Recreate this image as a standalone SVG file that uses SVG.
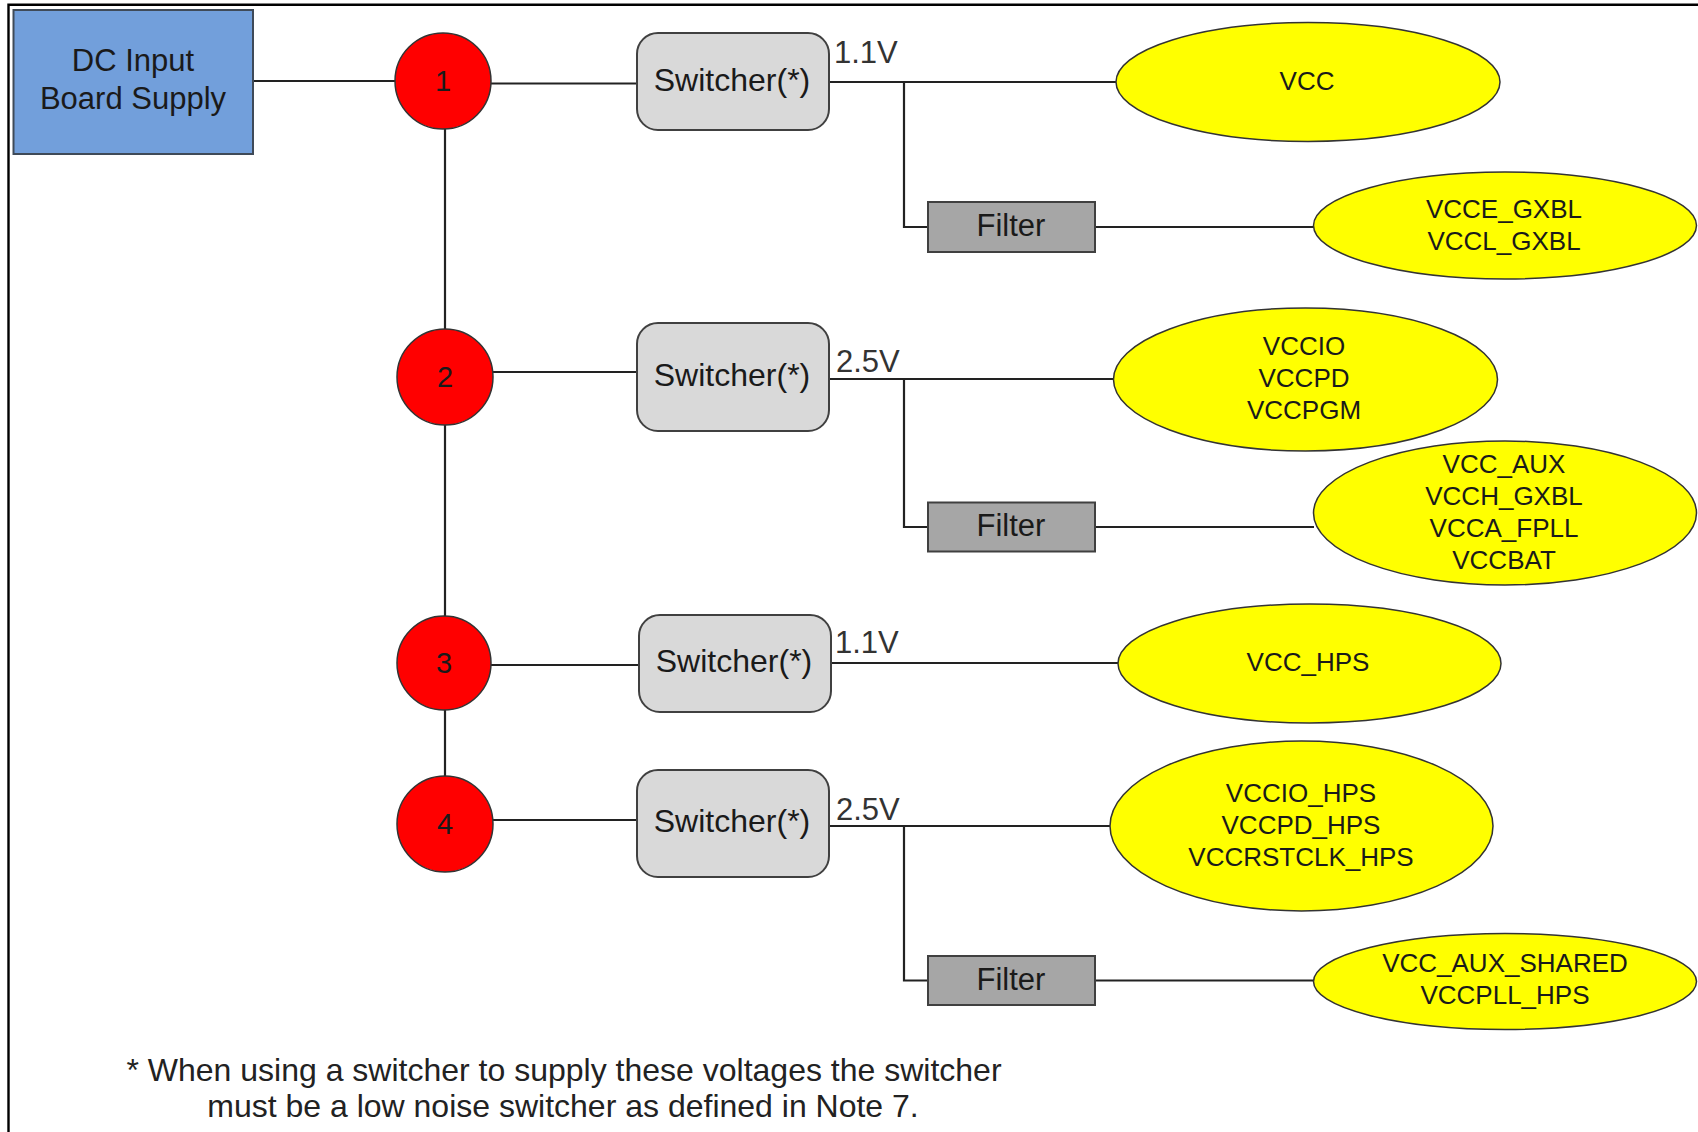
<svg xmlns="http://www.w3.org/2000/svg" width="1698" height="1132" viewBox="0 0 1698 1132">
<style>
  text { font-family: "Liberation Sans", Arial, sans-serif; fill: #1a1a1a; }
  .lbl { font-size: 31px; text-anchor: middle; }
  .swl { font-size: 32px; text-anchor: middle; }
  .num { font-size: 29px; text-anchor: middle; }
  .rail { font-size: 26px; text-anchor: middle; }
  .volt { font-size: 31px; fill: #333333; }
  .note { font-size: 32px; text-anchor: middle; fill: #222222; }
  .box { fill: #729fdb; stroke: #3f4a58; stroke-width: 2; }
  .node { fill: #ff0000; stroke: #333333; stroke-width: 1.5; }
  .sw { fill: #d9d9d9; stroke: #404040; stroke-width: 2; }
  .flt { fill: #a6a6a6; stroke: #404040; stroke-width: 2; }
  .rl { fill: #ffff00; stroke: #333333; stroke-width: 1.5; }
  .wire { fill: none; stroke: #222222; stroke-width: 2.2; }
</style>
<rect x="0" y="0" width="1698" height="1132" fill="#ffffff"/>
<path d="M8.5 1140 V4.8 H1710" fill="none" stroke="#000000" stroke-width="2.4"/>

<g id="connectors">
  <path class="wire" d="M253 81 H395"/>
  <path class="wire" d="M445 129 V329"/>
  <path class="wire" d="M445 425 V616"/>
  <path class="wire" d="M445 710 V776"/>
  <path class="wire" d="M491 83.5 H637"/>
  <path class="wire" d="M493 372 H637"/>
  <path class="wire" d="M491 665 H639"/>
  <path class="wire" d="M493 820 H637"/>
  <path class="wire" d="M829 82 H1116"/>
  <path class="wire" d="M904 82 V227 H928"/>
  <path class="wire" d="M1095 227 H1314"/>
  <path class="wire" d="M829 379 H1113"/>
  <path class="wire" d="M904 379 V527 H928"/>
  <path class="wire" d="M1095 527 H1314"/>
  <path class="wire" d="M831 663 H1118"/>
  <path class="wire" d="M829 826 H1110"/>
  <path class="wire" d="M904 826 V980.5 H928"/>
  <path class="wire" d="M1095 980.5 H1314"/>
</g>

<g id="dc-input">
  <rect class="box" x="13.5" y="10" width="239.5" height="144"/>
  <text class="lbl" x="133" y="71">DC Input</text>
  <text class="lbl" x="133" y="109">Board Supply</text>
</g>

<g id="node-1">
  <circle class="node" cx="443" cy="81" r="48"/>
  <text class="num" x="443" y="91">1</text>
</g>
<g id="node-2">
  <circle class="node" cx="445" cy="377" r="48"/>
  <text class="num" x="445" y="387">2</text>
</g>
<g id="node-3">
  <circle class="node" cx="444" cy="663" r="47"/>
  <text class="num" x="444" y="673">3</text>
</g>
<g id="node-4">
  <circle class="node" cx="445" cy="824" r="48"/>
  <text class="num" x="445" y="834">4</text>
</g>

<g id="switcher-1">
  <rect class="sw" x="637" y="33" width="192" height="97" rx="21" ry="21"/>
  <text class="swl" x="732" y="91">Switcher(*)</text>
  <text class="volt" x="834" y="63">1.1V</text>
</g>
<g id="switcher-2">
  <rect class="sw" x="637" y="323" width="192" height="108" rx="21" ry="21"/>
  <text class="swl" x="732" y="386">Switcher(*)</text>
  <text class="volt" x="836" y="372">2.5V</text>
</g>
<g id="switcher-3">
  <rect class="sw" x="639" y="615" width="192" height="97" rx="21" ry="21"/>
  <text class="swl" x="734" y="672">Switcher(*)</text>
  <text class="volt" x="835" y="653">1.1V</text>
</g>
<g id="switcher-4">
  <rect class="sw" x="637" y="770" width="192" height="107" rx="21" ry="21"/>
  <text class="swl" x="732" y="832">Switcher(*)</text>
  <text class="volt" x="836" y="820">2.5V</text>
</g>

<g id="filter-1">
  <rect class="flt" x="928" y="202" width="167" height="50"/>
  <text class="lbl" x="1011" y="236">Filter</text>
</g>
<g id="filter-2">
  <rect class="flt" x="928" y="502.5" width="167" height="49"/>
  <text class="lbl" x="1011" y="536">Filter</text>
</g>
<g id="filter-3">
  <rect class="flt" x="928" y="956" width="167" height="49"/>
  <text class="lbl" x="1011" y="990">Filter</text>
</g>

<g id="rail-vcc">
  <ellipse class="rl" cx="1308" cy="82" rx="192" ry="59.5"/>
  <text class="rail" x="1307" y="90">VCC</text>
</g>
<g id="rail-vcce">
  <ellipse class="rl" cx="1505" cy="225.5" rx="191.5" ry="53.5"/>
  <text class="rail" x="1504" y="218">VCCE_GXBL</text>
  <text class="rail" x="1504" y="250">VCCL_GXBL</text>
</g>
<g id="rail-vccio">
  <ellipse class="rl" cx="1305.5" cy="379.5" rx="192" ry="71.5"/>
  <text class="rail" x="1304" y="355">VCCIO</text>
  <text class="rail" x="1304" y="387">VCCPD</text>
  <text class="rail" x="1304" y="419">VCCPGM</text>
</g>
<g id="rail-vccaux">
  <ellipse class="rl" cx="1505" cy="513" rx="191.5" ry="72"/>
  <text class="rail" x="1504" y="472.5">VCC_AUX</text>
  <text class="rail" x="1504" y="504.5">VCCH_GXBL</text>
  <text class="rail" x="1504" y="536.5">VCCA_FPLL</text>
  <text class="rail" x="1504" y="568.5">VCCBAT</text>
</g>
<g id="rail-vcchps">
  <ellipse class="rl" cx="1309.5" cy="663.5" rx="191.5" ry="59.5"/>
  <text class="rail" x="1308" y="671">VCC_HPS</text>
</g>
<g id="rail-vcciohps">
  <ellipse class="rl" cx="1301.5" cy="826" rx="191.5" ry="85"/>
  <text class="rail" x="1301" y="801.5">VCCIO_HPS</text>
  <text class="rail" x="1301" y="833.5">VCCPD_HPS</text>
  <text class="rail" x="1301" y="865.5">VCCRSTCLK_HPS</text>
</g>
<g id="rail-vccauxshared">
  <ellipse class="rl" cx="1505" cy="981.5" rx="191.5" ry="48"/>
  <text class="rail" x="1505" y="972">VCC_AUX_SHARED</text>
  <text class="rail" x="1505" y="1004">VCCPLL_HPS</text>
</g>

<g id="footnote">
  <text class="note" x="564" y="1081">* When using a switcher to supply these voltages the switcher</text>
  <text class="note" x="563" y="1117">must be a low noise switcher as defined in Note 7.</text>
</g>
</svg>
